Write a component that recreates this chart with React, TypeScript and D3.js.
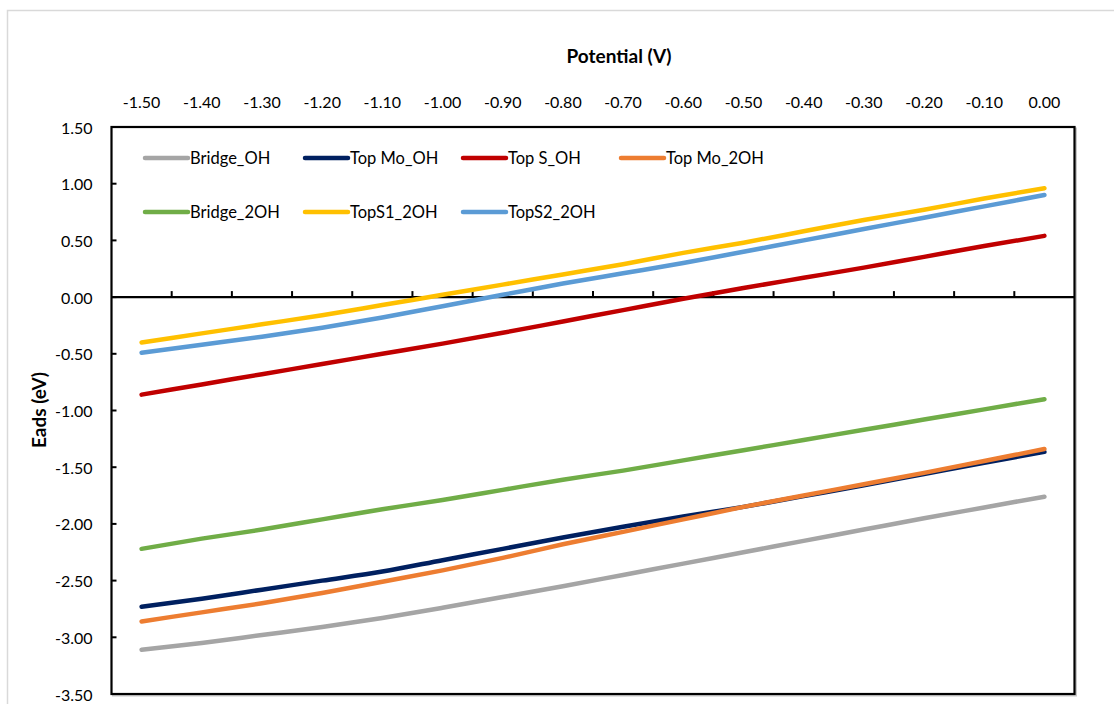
import { useMemo } from "react";
import * as d3 from "d3";

// potential (V) categories along the top axis
const potentials = [
  "-1.50", "-1.40", "-1.30", "-1.20", "-1.10", "-1.00", "-0.90", "-0.80",
  "-0.70", "-0.60", "-0.50", "-0.40", "-0.30", "-0.20", "-0.10", "0.00",
];

// adsorption energies (eV)
const bridgeOH = [-3.11, -3.05, -2.98, -2.91, -2.83, -2.74, -2.645, -2.55, -2.45, -2.35, -2.25, -2.15, -2.05, -1.95, -1.855, -1.76];
const topMoOH = [-2.73, -2.66, -2.58, -2.5, -2.42, -2.32, -2.22, -2.12, -2.025, -1.935, -1.85, -1.755, -1.66, -1.56, -1.46, -1.365];
const topSOH = [-0.86, -0.77, -0.68, -0.59, -0.5, -0.41, -0.315, -0.215, -0.115, -0.015, 0.08, 0.17, 0.26, 0.355, 0.45, 0.54];
const topMo2OH = [-2.86, -2.78, -2.7, -2.61, -2.51, -2.41, -2.3, -2.18, -2.07, -1.96, -1.85, -1.75, -1.65, -1.55, -1.445, -1.34];
const bridge2OH = [-2.22, -2.13, -2.05, -1.96, -1.87, -1.79, -1.7, -1.61, -1.53, -1.44, -1.35, -1.26, -1.17, -1.08, -0.99, -0.9];
const topS12OH = [-0.4, -0.32, -0.24, -0.16, -0.07, 0.02, 0.11, 0.2, 0.29, 0.39, 0.48, 0.58, 0.68, 0.77, 0.87, 0.96];
const topS22OH = [-0.49, -0.42, -0.35, -0.27, -0.18, -0.08, 0.02, 0.12, 0.21, 0.3, 0.4, 0.5, 0.6, 0.7, 0.8, 0.9];

const yTicks = [1.5, 1.0, 0.5, 0.0, -0.5, -1.0, -1.5, -2.0, -2.5, -3.0, -3.5];

const series = [
  { name: "Bridge_OH", values: bridgeOH, color: "#A5A5A5" },
  { name: "Top Mo_OH", values: topMoOH, color: "#002060" },
  { name: "Top S_OH", values: topSOH, color: "#C00000" },
  { name: "Top Mo_2OH", values: topMo2OH, color: "#ED7D31" },
  { name: "Bridge_2OH", values: bridge2OH, color: "#70AD47" },
  { name: "TopS1_2OH", values: topS12OH, color: "#FFC000" },
  { name: "TopS2_2OH", values: topS22OH, color: "#5B9BD5" },
];

const W = 1114;
const H = 704;
const plot = { left: 111.5, right: 1074.5, top: 127, bottom: 694 };
const font = "Lato, 'Open Sans', sans-serif";

// legend slots (column x, row y)
const legendCols = [145, 305, 463, 621];
const legendRows = [158, 212];

export default function App() {
  const x = useMemo(
    () => d3.scaleBand<string>().domain(potentials).range([plot.left, plot.right]).padding(0),
    []
  );
  const y = useMemo(
    () => d3.scaleLinear().domain([-3.5, 1.5]).range([plot.bottom, plot.top]),
    []
  );
  const cx = (p: string) => (x(p) ?? 0) + x.bandwidth() / 2;

  const line = d3
    .line<number>()
    .x((_, i) => cx(potentials[i]))
    .y((v) => y(v))
    .curve(d3.curveMonotoneX);

  const y0 = y(0);
  const boundaries = potentials.slice(1).map((p) => x(p) ?? 0);

  return (
    <div style={{ position: "absolute", left: 0, top: 0, width: W, height: H, overflow: "hidden", background: "#fff" }}>
      <svg width={W} height={H} style={{ display: "block" }} fontFamily={font}>
        {/* outer chart frame (cropped on right / bottom) */}
        <path d={`M7.5,${H + 5} V10.5 H${W + 5}`} fill="none" stroke="#d9d9d9" strokeWidth={1.5} />

        <text x={619} y={55} textAnchor="middle" dominantBaseline="central" fontSize={19} fontWeight={700} fill="#000">
          Potential (V)
        </text>
        <text
          transform={`translate(38.5,410) rotate(-90)`}
          textAnchor="middle"
          dominantBaseline="central"
          fontSize={19}
          fontWeight={700}
          fill="#000"
        >
          Eads (eV)
        </text>

        {/* x tick labels on top */}
        {potentials.map((p) => (
          <text key={p} x={cx(p)} y={101.5} textAnchor="middle" dominantBaseline="central" fontSize={16} fill="#000">
            {p}
          </text>
        ))}

        {/* y tick labels */}
        {yTicks.map((t) => (
          <text key={t} x={92.5} y={y(t)} textAnchor="end" dominantBaseline="central" fontSize={16} fill="#000">
            {t.toFixed(2)}
          </text>
        ))}

        {/* plot area shadow + border */}
        <rect
          x={plot.left + 1.5}
          y={plot.top + 1.5}
          width={plot.right - plot.left}
          height={plot.bottom - plot.top}
          fill="none"
          stroke="#c8c8c8"
          strokeWidth={2}
        />
        <rect
          x={plot.left}
          y={plot.top}
          width={plot.right - plot.left}
          height={plot.bottom - plot.top}
          fill="#fff"
          stroke="#000"
          strokeWidth={2.2}
        />

        {/* y ticks (inside) */}
        {yTicks.map((t) => (
          <line key={t} x1={plot.left} x2={plot.left + 5} y1={y(t)} y2={y(t)} stroke="#000" strokeWidth={2} />
        ))}

        {/* horizontal axis at 0 with ticks between categories */}
        <line x1={plot.left} x2={plot.right} y1={y0} y2={y0} stroke="#000" strokeWidth={2.2} />
        {boundaries.map((b, i) => (
          <line key={i} x1={b} x2={b} y1={y0} y2={y0 - 6} stroke="#000" strokeWidth={2} />
        ))}

        {/* series */}
        {series.map((s) => (
          <path
            key={s.name}
            d={line(s.values) ?? ""}
            fill="none"
            stroke={s.color}
            strokeWidth={4.5}
            strokeLinecap="round"
            strokeLinejoin="round"
          />
        ))}

        {/* legend */}
        {series.map((s, i) => {
          const lx = legendCols[i < 4 ? i : i - 4];
          const ly = legendRows[i < 4 ? 0 : 1];
          return (
            <g key={s.name}>
              <line x1={lx} x2={lx + 43} y1={ly} y2={ly} stroke={s.color} strokeWidth={4.5} strokeLinecap="round" />
              <text x={lx + 45} y={ly} dominantBaseline="central" fontSize={16.5} fill="#000">
                {s.name}
              </text>
            </g>
          );
        })}
      </svg>
    </div>
  );
}
